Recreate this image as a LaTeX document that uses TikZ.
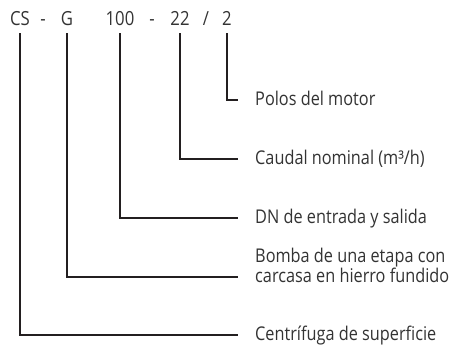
\documentclass[tikz,border=0pt]{standalone}
\usepackage{fontspec}
\setmainfont{Open Sans}[FakeStretch=0.86]
\usetikzlibrary{positioning}
\definecolor{codegray}{HTML}{333333}
\definecolor{leadblack}{HTML}{231F20}

\begin{document}
\begin{tikzpicture}[x=1bp, y=-1bp,
  code/.style={inner sep=0pt, anchor=base, font=\fontsize{19.5}{19}\selectfont, text=codegray},
  desc/.style={inner sep=0pt, anchor=west, align=left, text height=14bp, text depth=4bp,
    font=\fontsize{19}{16}\selectfont, text=codegray},
  lead/.style={draw=leadblack, line width=1.4bp, shorten >=17bp}
]
\useasboundingbox (0,0) rectangle (457,349);

% Type code
\node[code] (cs) at (20,25) {CS};
\node[code] (dashA) at (43,25) {-};
\node[code] (g) at (67,25) {G};
\node[code] (dn) at (120,25) {100};
\node[code] (dashB) at (152,25) {-};
\node[code] (flow) at (180,25) {22};
\node[code] (slash) at (206,25) {/};
\node[code] (poles) at (227,25) {2};

% Meanings
\node[desc] (lpoles) at (255,100) {Polos del motor};
\node[desc] (lflow) at (255,159) {Caudal nominal (m³/h)};
\node[desc] (ldn) at (255,218) {DN de entrada y salida};
\node[desc, anchor=north west] (lg) at (255,268) {Bomba de una etapa con\\carcasa en hierro fundido};
\node[desc] (lcs) at (255,335) {Centrífuga de superficie};

% Leaders
\draw[lead] ([yshift=-8bp]poles.base) |- (lpoles.west);
\draw[lead] ([yshift=-8bp]flow.base) |- (lflow.west);
\draw[lead] ([yshift=-8bp]dn.base) |- (ldn.west);
\draw[lead] ([yshift=-8bp]g.base) |- ([yshift=-9bp]lg.north west);
\draw[lead] ([yshift=-8bp]cs.base) |- (lcs.west);

\end{tikzpicture}
\end{document}
